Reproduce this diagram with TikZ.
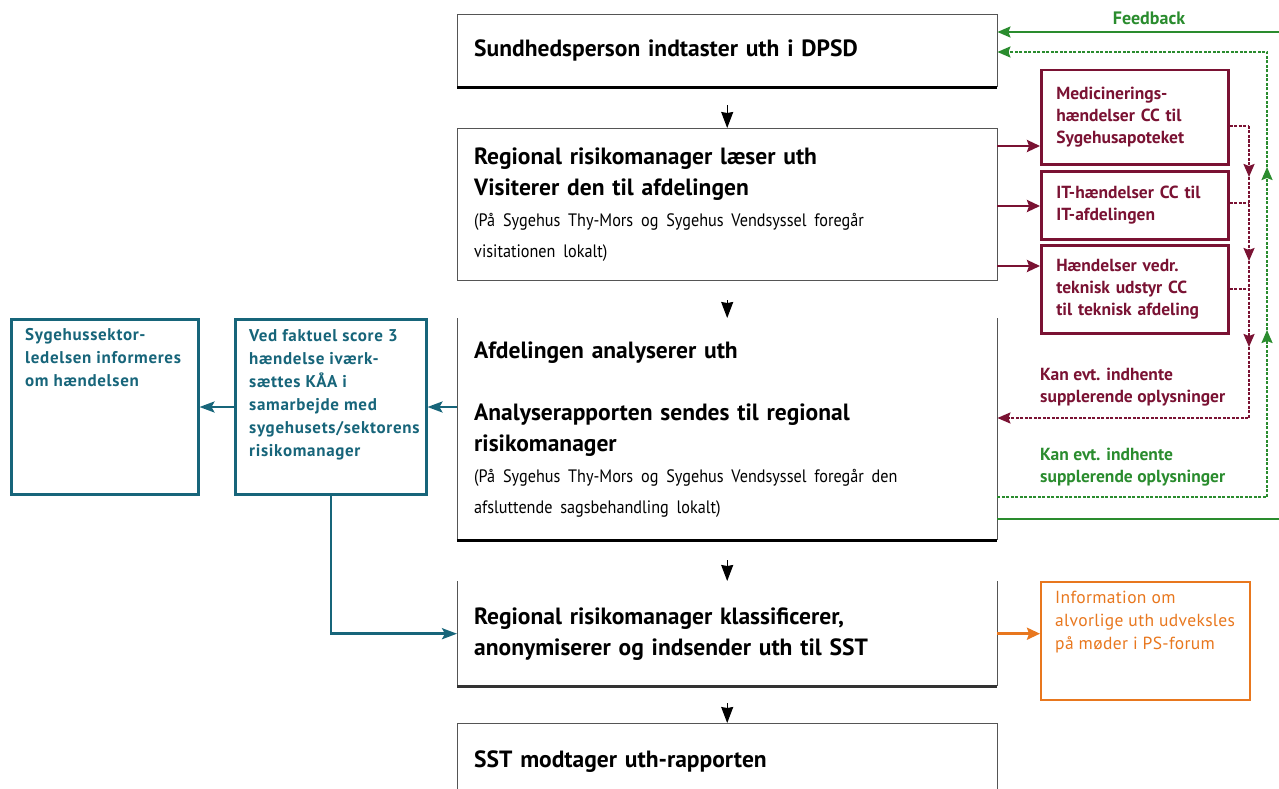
\documentclass[tikz,border=0pt]{standalone}
\usepackage{fontspec}
\setmainfont{PT Sans}
\usetikzlibrary{arrows.meta}
\definecolor{dred}{HTML}{7A1233}
\definecolor{dgreen}{HTML}{2A8C2E}
\definecolor{tealc}{HTML}{17657A}
\definecolor{orng}{HTML}{E8771E}
\definecolor{bgray}{HTML}{555555}
\newcommand{\smtxt}{\normalfont\fontsize{18}{31}\selectfont\addfontfeature{FakeStretch=0.9}}
\begin{document}
\begin{tikzpicture}[x=1pt,y=-1pt,
  mainbox/.style={inner sep=0pt, text width=506pt, align=left, anchor=north west,
    minimum width=540pt, font=\bfseries\fontsize{23.5}{31}\selectfont},
  side/.style={draw=bgray, line width=0.9pt},
  thickb/.style={line width=3pt, black},
  redbox/.style={draw=dred, line width=2.5pt, text=dred, inner sep=0pt, anchor=north west,
    text width=157pt, align=left, minimum width=187pt, font=\bfseries\fontsize{17.5}{22}\selectfont},
  tealbox/.style={draw=tealc, line width=2.5pt, anchor=north west},
  tealtext/.style={text=tealc, inner sep=0pt, anchor=north west, align=left,
    font=\bfseries\fontsize{17}{23}\selectfont\addfontfeature{LetterSpace=4}},
  orbox/.style={draw=orng, line width=2pt, anchor=north west},
  ortext/.style={text=orng, inner sep=0pt, anchor=north west, align=left,
    font=\fontsize{17.5}{23}\selectfont\addfontfeature{LetterSpace=2}},
  lbl/.style={inner sep=0pt, anchor=north west, align=left, font=\bfseries\fontsize{17.5}{22}\selectfont},
  blk/.style={black, line width=1pt, -{Stealth[length=16pt,width=12pt,inset=1pt]}},
  rarr/.style={dred, line width=2.5pt, -{Stealth[length=13pt,width=12pt,inset=2pt]}},
  rdot/.style={dred, line width=2pt, dash pattern=on 3pt off 1.5pt},
  gdot/.style={dgreen, line width=2pt, dash pattern=on 3pt off 1.5pt},
  gsol/.style={dgreen, line width=2pt},
  tip/.style={-{Stealth[length=13pt,width=11pt,inset=2pt]}},
  tarr/.style={tealc, line width=2.5pt, -{Stealth[length=15pt,width=11pt,inset=3pt]}},
  oarr/.style={orng, line width=2.5pt, -{Stealth[length=13pt,width=12pt,inset=2pt]}}
]
\useasboundingbox (0,0) rectangle (1279,789);
\clip (0,0) rectangle (1279,789);

% main boxes
\node[mainbox, minimum height=73pt] (b1) at (457,14) {Sundhedsperson indtaster uth i DPSD};
\node[mainbox, minimum height=152pt] (b2) at (457,128) {Regional risikomanager læser uth\\Visiterer den til afdelingen\\{\smtxt (På Sygehus Thy-Mors og Sygehus Vendsyssel foregår\\visitationen lokalt)}};
\node[mainbox, minimum height=222pt] (b3) at (457,318) {Afdelingen analyserer uth\\[31pt]Analyserapporten sendes til regional\\risikomanager\\{\smtxt (På Sygehus Thy-Mors og Sygehus Vendsyssel foregår den\\afsluttende sagsbehandling lokalt)}};
\node[mainbox, minimum height=105pt] (b4) at (457,581) {Regional risikomanager klassificerer,\\anonymiserer og indsender uth til SST};
\node[mainbox, minimum height=76pt] (b5) at (457,723) {SST modtager uth-rapporten};

% borders of main boxes
\draw[side] (b1.south west) |- (b1.north east) -- (b1.south east);
\draw[thickb] (b1.south west) -- (b1.south east);
\draw[side] (b2.south west) |- (b2.north east) -- (b2.south east) -- cycle;
\draw[side] (b3.north west) -- (b3.south west);
\draw[side] (b3.north east) -- (b3.south east);
\draw[thickb] (b3.south west) -- (b3.south east);
\draw[side] (b4.north west) -- (b4.south west);
\draw[side] (b4.north east) -- (b4.south east);
\draw[thickb, draw=black!80] (b4.south west) -- (b4.south east);
\draw[side] (b5.south west) |- (b5.north east) -- (b5.south east);

% main arrows
\draw[blk, shorten <=18pt] (b1.south) -- (b2.north);
\draw[blk, shorten <=20pt] (b2.south) -- (b3.north);
\draw[blk, shorten <=20pt] (b3.south) -- (b4.north);
\draw[blk, shorten <=17pt] (b4.south) -- (b5.north);

% red boxes
\node[redbox, minimum height=94pt] (r1) at (1040,69) {Medicinerings-\\hændelser CC til\\Sygehusapoteket};
\node[redbox, minimum height=68pt] (r2) at (1040,170) {IT-hændelser CC til\\IT-afdelingen};
\node[redbox, minimum height=88pt] (r3) at (1040,244) {Hændelser vedr.\\teknisk udstyr CC\\til teknisk afdeling};

\coordinate (ra) at (0,146);
\coordinate (rb) at (0,206);
\coordinate (rc) at (0,266);
\draw[rarr] (b2.east |- ra) -- (r1.west |- ra);
\draw[rarr] (b2.east |- rb) -- (r2.west |- rb);
\draw[rarr] (b2.east |- rc) -- (r3.west |- rc);

% red dotted return path
\coordinate (rv1) at (1249,126);
\coordinate (rvA) at (1249,177);
\coordinate (rvB) at (1249,261);
\coordinate (rvC) at (1249,347);
\coordinate (rvD) at (1249,418);
\coordinate (r2y) at (1249,203);
\coordinate (r3y) at (1249,289);
\draw[rdot] (r1.east |- rv1) -- (rv1);
\draw[rdot] (r2.east |- r2y) -- (r2y);
\draw[rdot] (r3.east |- r3y) -- (r3y);
\draw[rdot, tip] (rv1) -- (rvA);
\draw[rdot, tip] (rvA) -- (rvB);
\draw[rdot, tip] (rvB) -- (rvC);
\draw[rdot, tip] (rvC) -- (rvD) -- (b3.east |- rvD);
\node[lbl, text=dred] (rl) at (1040,368) {Kan evt. indhente\\supplerende oplysninger};

% green paths
\coordinate (gs1) at (1279,32);
\coordinate (gs2) at (1279,519);
\coordinate (gv0) at (1267,497);
\coordinate (gvA) at (1267,330);
\coordinate (gvB) at (1267,167);
\coordinate (gvC) at (1267,52);
\draw[gsol, tip] (gs1) -- (b1.east |- gs1);
\node[inner sep=0pt, anchor=base, text=dgreen, font=\bfseries\fontsize{18}{20}\selectfont] (fb) at (1149,25) {Feedback};
\draw[gdot, tip] (b3.east |- gv0) -- (gv0) -- (gvA);
\draw[gdot, tip] (gvA) -- (gvB);
\draw[gdot, tip] (gvB) -- (gvC) -- (b1.east |- gvC);
\draw[gsol] (b3.east |- gs2) -- (gs2);
\node[lbl, text=dgreen] (gl) at (1040,448) {Kan evt. indhente\\supplerende oplysninger};

% teal boxes
\node[tealbox, minimum width=187pt, minimum height=175pt] (t1) at (10,318) {};
\node[tealtext] (t1t) at (25,328) {Sygehussektor-\\ledelsen informeres\\om hændelsen};
\node[tealbox, minimum width=191pt, minimum height=175pt] (t2) at (234,318) {};
\node[tealtext] (t2t) at (249,329) {Ved faktuel score 3\\hændelse iværk-\\sættes KÅA i\\samarbejde med\\sygehusets/sektorens\\risikomanager};
\coordinate (ty) at (0,407);
\draw[tarr] (b3.west |- ty) -- (t2.east |- ty);
\draw[tarr] (t2.west |- ty) -- (t1.east |- ty);
\draw[tarr] (t2.south) |- (b4.west);

% orange box
\node[orbox, minimum width=209pt, minimum height=118pt] (o1) at (1040,581) {};
\node[ortext] (o1t) at (1055,591) {Information om\\alvorlige uth udveksles\\på møder i PS-forum};
\draw[oarr] (b4.east) -- (o1.west |- b4.east);
\end{tikzpicture}
\end{document}
